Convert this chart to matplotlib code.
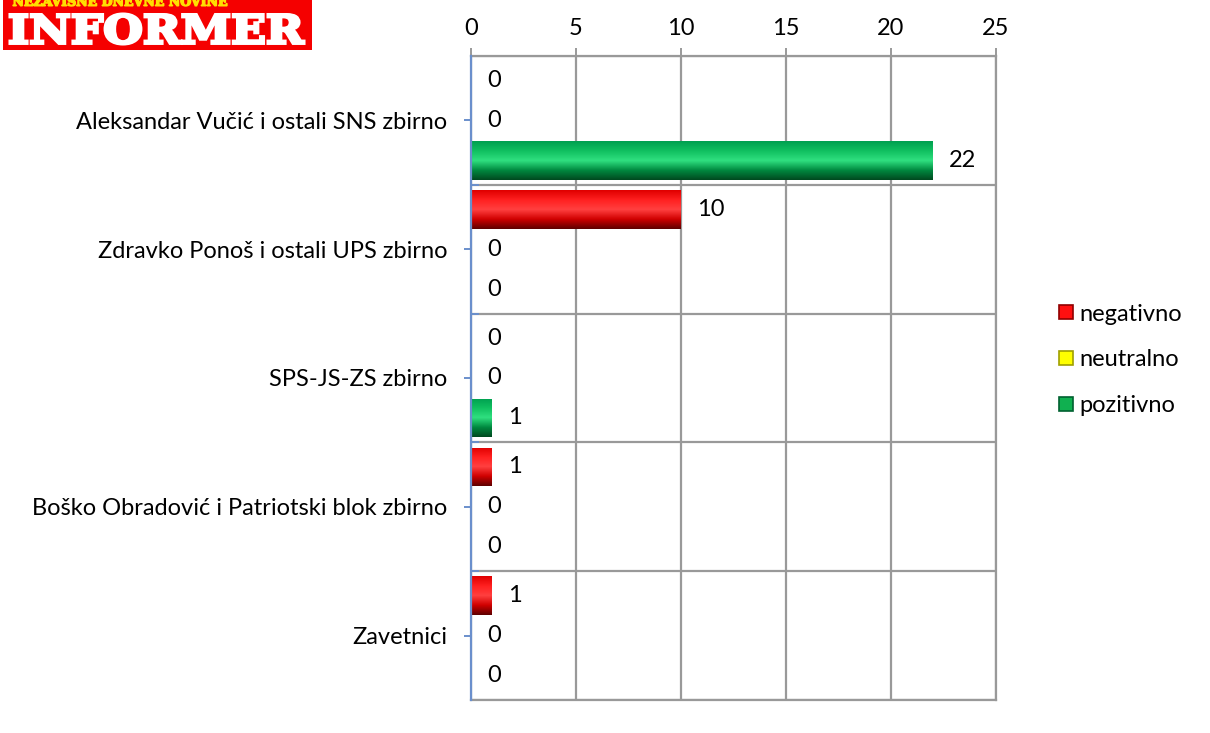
import matplotlib
matplotlib.use("Agg")
import matplotlib.pyplot as plt
import numpy as np
from matplotlib.colors import LinearSegmentedColormap
from matplotlib.font_manager import FontProperties
from matplotlib.lines import Line2D
from matplotlib.patches import PathPatch, Rectangle
from matplotlib.textpath import TextPath
from matplotlib.transforms import Affine2D

W, H, DPI = 1210, 733, 100

categories = [
    "Aleksandar Vučić i ostali SNS zbirno",
    "Zdravko Ponoš i ostali UPS zbirno",
    "SPS-JS-ZS zbirno",
    "Boško Obradović i Patriotski blok zbirno",
    "Zavetnici",
]
series_names = ["negativno", "neutralno", "pozitivno"]
negativno = [0, 10, 0, 1, 1]
neutralno = [0, 0, 0, 0, 0]
pozitivno = [22, 0, 1, 0, 0]
x_ticks = [0, 5, 10, 15, 20, 25]

# top edge -> highlight -> dark bottom, like the excel "cylinder" bars
shades = {
    "negativno": ["#e00000", "#ff2020", "#ff4040", "#d00000", "#600000"],
    "neutralno": ["#e0e000", "#ffff30", "#ffff80", "#d0d000", "#707000"],
    "pozitivno": ["#00a050", "#10c060", "#30e080", "#008a40", "#004a20"],
}
legend_face = {"negativno": "#ff1010", "neutralno": "#ffff00", "pozitivno": "#10b050"}
legend_edge = {"negativno": "#900000", "neutralno": "#a0a000", "pozitivno": "#006030"}

FONT = "Lato"
FS = 17
plt.rcParams["font.family"] = [FONT, "DejaVu Sans"]

fig = plt.figure(figsize=(W / DPI, H / DPI), dpi=DPI)
ax = fig.add_axes([471 / W, 1 - 700 / H, (996 - 471) / W, (700 - 56) / H])

values = {"negativno": negativno, "neutralno": neutralno, "pozitivno": pozitivno}
offsets = {"negativno": -0.31, "neutralno": 0.0, "pozitivno": 0.31}
bar_h = 0.30
yc = np.arange(len(categories))

grad = np.linspace(0, 1, 64)[:, None]
for name in series_names:
    cmap = LinearSegmentedColormap.from_list(name, shades[name])
    for i, v in enumerate(values[name]):
        y = yc[i] + offsets[name]
        if v > 0:
            rect = Rectangle((0, y - bar_h / 2), v, bar_h, facecolor="none",
                             edgecolor="none", zorder=3)
            ax.add_patch(rect)
            im = ax.imshow(grad, cmap=cmap, aspect="auto", origin="upper",
                           extent=(0, v, y + bar_h / 2, y - bar_h / 2), zorder=3)
            im.set_clip_path(rect)
        ax.annotate(str(v), (v, y), xytext=(11.5, 0), textcoords="offset points",
                    ha="left", va="center", fontsize=FS, color="black", zorder=4)

ax.set_xlim(0, 25)
ax.set_ylim(len(categories) - 0.5, -0.5)
ax.set_xticks(x_ticks)
ax.xaxis.tick_top()
ax.tick_params(axis="x", which="major", direction="out", length=6, color="#999999",
               width=1.4, labelsize=FS, pad=6)
ax.set_yticks(yc)
ax.set_yticklabels(categories)
ax.set_yticks(np.arange(len(categories) + 1) - 0.5, minor=True)
ax.tick_params(axis="y", which="major", direction="out", length=5, color="#6a8fcc",
               width=1.4, labelsize=FS, pad=12)
ax.tick_params(axis="y", which="minor", direction="in", length=6, color="#6a8fcc",
               width=1.4)
ax.grid(axis="x", which="major", color="#999999", lw=1.6)
ax.grid(axis="y", which="minor", color="#999999", lw=1.6)
ax.set_axisbelow(True)
for side in ["top", "right", "bottom"]:
    ax.spines[side].set_color("#999999")
    ax.spines[side].set_linewidth(1.6)
ax.spines["left"].set_color("#6a8fcc")
ax.spines["left"].set_linewidth(1.6)
ax.spines["left"].set_zorder(5)

handles = [Line2D([], [], marker="s", ls="none", markersize=10,
                  markerfacecolor=legend_face[n], markeredgecolor=legend_edge[n],
                  markeredgewidth=1.2) for n in series_names]
fig.legend(handles, series_names, loc="center left",
           bbox_to_anchor=(1033 / W, 1 - 360 / H), frameon=False, fontsize=FS,
           handletextpad=0.05, labelspacing=1.05, handlelength=1.0)

# logo in top-left corner
fig_px = Affine2D().scale(1 / W, 1 / H) + fig.transFigure
fig.patches.append(Rectangle((3, H - 50), 309, 50, facecolor="#f50000",
                             edgecolor="none", transform=fig_px, figure=fig))


def fit_text(s, x0, y0, x1, y1, color, prop, lw):
    tp = TextPath((0, 0), s, size=100, prop=prop)
    bb = tp.get_extents()
    tr = (Affine2D().translate(-bb.x0, -bb.y0)
          .scale((x1 - x0) / bb.width, (y1 - y0) / bb.height)
          .translate(x0, H - y1))
    fig.patches.append(PathPatch(tp, facecolor=color, edgecolor=color, lw=lw,
                                 transform=tr + fig_px, figure=fig))


serif_bold = FontProperties(family="DejaVu Serif", weight="bold")
fit_text("INFORMER", 10, 14, 304, 44, "white", serif_bold, 2.2)
fit_text("NEZAVISNE DNEVNE NOVINE", 13, -4, 227, 6, "#ffe000", serif_bold, 1.0)

fig.savefig("out.png", dpi=DPI)
